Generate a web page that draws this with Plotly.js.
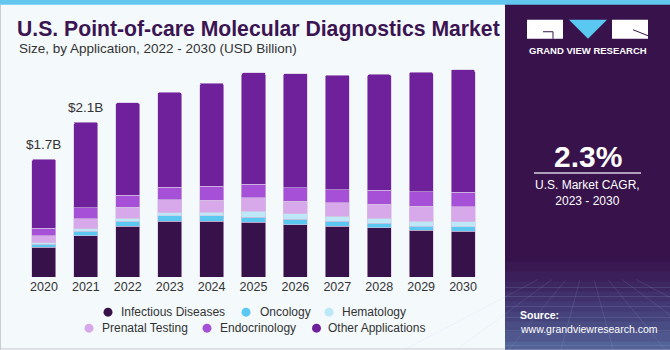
<!DOCTYPE html>
<html><head><meta charset="utf-8">
<script src="https://cdn.plot.ly/plotly-3.0.1.min.js"></script>
<style>html,body{margin:0;padding:0;background:#F4F9FC}#chart{width:670px;height:350px}</style>
</head><body><div id="chart"></div>
<script>
// ---- data (USD Billion) ----
const years = ['2020','2021','2022','2023','2024','2025','2026','2027','2028','2029','2030'];
const seriesNames = ['Infectious Diseases','Oncology','Hematology','Prenatal Testing','Endocrinology','Other Applications'];
const infectiousDiseases = [0.432,0.598,0.734,0.806,0.806,0.792,0.757,0.729,0.713,0.674,0.660];
const oncology           = [0.039,0.062,0.072,0.076,0.076,0.072,0.076,0.072,0.062,0.058,0.068];
const hematology         = [0.023,0.035,0.039,0.048,0.052,0.086,0.076,0.072,0.072,0.072,0.072];
const prenatalTesting    = [0.101,0.144,0.163,0.183,0.173,0.193,0.187,0.197,0.202,0.216,0.216];
const endocrinology      = [0.111,0.158,0.173,0.181,0.202,0.192,0.192,0.187,0.202,0.212,0.206];
const otherApplications  = [0.994,1.238,1.331,1.368,1.489,1.608,1.647,1.656,1.670,1.724,1.767];
const labelYears = ['2020','2021'];
const labelTexts = ['$1.7B','$2.1B'];
const cagrValue = '2.3%';
const cagrText = 'U.S. Market CAGR,<br>2023 - 2030';

// ---- styles ----
const colors = ['#37114A','#5BC8F2','#BDE8F8','#D8A9EA','#A650D8','#6F209B'];
const W = 670, H = 350, L = 23, R = 186, T = 69.3, B = 72.5;
const pw = W - L - R, ph = H - T - B;
const px = p => (p - L) / pw;
const py = p => (H - B - p) / ph;
const FONT = 'Liberation Sans, Arial, sans-serif';

const seriesData = [infectiousDiseases, oncology, hematology, prenatalTesting, endocrinology, otherApplications];
const traces = seriesData.map((vals, i) => ({
  type: 'bar', x: years, y: vals, name: seriesNames[i], showlegend: false,
  marker: {color: colors[i], line: {color: '#d3c2df', width: 0.6}},
  hoverinfo: 'skip'
}));

const totals = years.map((_, j) => seriesData.reduce((s, arr) => s + arr[j], 0));

function pathPx(pts) {
  return 'M' + pts.map(p => px(p[0]) + ',' + py(p[1])).join('L') + 'Z';
}
function linePx(x0, y0, x1, y1, color, w) {
  return {type:'line', xref:'paper', yref:'paper', x0:px(x0), x1:px(x1), y0:py(y0), y1:py(y1), line:{color:color, width:w}};
}

const shapes = [
  // right panel
  {type:'rect', xref:'paper', yref:'paper', x0:px(505), x1:px(670), y0:py(350), y1:py(0), fillcolor:'#38124B', line:{width:0}}
];
// bottom gradient of the panel
for (let k = 0; k < 9; k++) {
  const top = 262 + k * 10;
  shapes.push({type:'rect', xref:'paper', yref:'paper', x0:px(505), x1:px(670), y0:py(350), y1:py(top),
    fillcolor:'rgba(' + (70 + k * 6) + ',' + (70 + k * 14) + ',' + (140 + k * 10) + ',0.12)', line:{width:0}});
}
// faint grid texture
[288, 297, 307, 318, 331, 346].forEach(y => shapes.push(linePx(505, y, 670, y, 'rgba(170,200,235,0.22)', 0.7)));
[-60, -20, 20, 60, 100, 140, 180, 220].forEach(x => shapes.push(linePx(587 + (x - 80) * 0.35, 280, 587 + (x - 80) * 1.3, 350, 'rgba(170,200,235,0.2)', 0.7)));
shapes.push(
  // top stripe
  {type:'rect', xref:'paper', yref:'paper', x0:px(0), x1:px(670), y0:py(5), y1:py(0), fillcolor:'#62C6EF', line:{width:0}},
  // borders
  linePx(0.5, 5, 0.5, 350, '#c8ccd0', 1),
  linePx(0, 349.5, 505, 349.5, '#c8ccd0', 1),
  // logo
  {type:'rect', xref:'paper', yref:'paper', x0:px(527), x1:px(563), y0:py(39), y1:py(20), fillcolor:'#ffffff', line:{width:0}},
  {type:'path', xref:'paper', yref:'paper', path: pathPx([[569,20],[607,20],[588,39]]), fillcolor:'#5BC8F2', line:{width:0}},
  {type:'rect', xref:'paper', yref:'paper', x0:px(612), x1:px(648), y0:py(39), y1:py(20), fillcolor:'#ffffff', line:{width:0}},
  {type:'path', xref:'paper', yref:'paper', path: 'M'+px(543)+','+py(32)+'L'+px(553)+','+py(32)+'L'+px(553)+','+py(39), line:{color:'#38124B', width:1}},
  {type:'path', xref:'paper', yref:'paper', path: 'M'+px(633)+','+py(30)+'L'+px(648)+','+py(36), line:{color:'#38124B', width:1}},
  // CAGR divider
  linePx(534, 173.3, 641, 173.3, '#d9d2e0', 1.5)
);

// manual legend: circle markers
const legendPos = [
  {mx:108, tx:119, y:312.7}, {mx:246, tx:258, y:312.7}, {mx:329, tx:340, y:312.7},
  {mx:89, tx:100, y:328.7}, {mx:207, tx:218, y:328.7}, {mx:316.5, tx:326, y:328.7}
];
legendPos.forEach((p, i) => {
  shapes.push({type:'circle', xref:'paper', yref:'paper', xsizemode:'pixel', ysizemode:'pixel',
    xanchor:px(p.mx), yanchor:py(p.y), x0:-4.5, x1:4.5, y0:-4.5, y1:4.5,
    fillcolor: colors[i], line:{width:0}});
});

const annotations = [];
labelYears.forEach((yr, k) => {
  const j = years.indexOf(yr);
  annotations.push({xref:'x', yref:'y', x: j, y: totals[j], yanchor:'bottom', yshift:5,
    text: labelTexts[k], showarrow:false, font:{family:FONT, size:13.5, color:'#333333'}});
});
legendPos.forEach((p, i) => {
  annotations.push({xref:'paper', yref:'paper', x:px(p.tx), y:py(p.y), xanchor:'left', yanchor:'middle',
    text: seriesNames[i], showarrow:false, font:{family:FONT, size:12, color:'#333333'}});
});
annotations.push(
  {xref:'paper', yref:'paper', x:px(17), y:py(48.5), xanchor:'left', yanchor:'middle', showarrow:false,
   text:'Size, by Application, 2022 - 2030 (USD Billion)', font:{family:FONT, size:13.5, color:'#333333'}},
  {xref:'paper', yref:'paper', x:px(587.5), y:py(51), xanchor:'center', yanchor:'middle', showarrow:false,
   text:'<b>GRAND VIEW RESEARCH</b>', font:{family:FONT, size:9.5, color:'#ffffff'}},
  {xref:'paper', yref:'paper', x:px(587.5), y:py(157), xanchor:'center', yanchor:'middle', showarrow:false,
   text:'<b>'+cagrValue+'</b>', font:{family:FONT, size:30, color:'#ffffff'}},
  {xref:'paper', yref:'paper', x:px(587.5), y:py(193.5), xanchor:'center', yanchor:'middle', showarrow:false,
   text:cagrText, font:{family:FONT, size:12, color:'#ffffff'}},
  {xref:'paper', yref:'paper', x:px(518), y:py(315.7), xanchor:'left', yanchor:'middle', showarrow:false,
   text:'<b>Source:</b>', font:{family:FONT, size:10.5, color:'#ffffff'}},
  {xref:'paper', yref:'paper', x:px(518), y:py(329.3), xanchor:'left', yanchor:'middle', showarrow:false,
   text:'www.grandviewresearch.com', font:{family:FONT, size:10.5, color:'#ffffff'}}
);

const layout = {
  width: W, height: H,
  margin: {l:L, r:R, t:T, b:B, pad:0},
  paper_bgcolor: '#F4F9FC', plot_bgcolor: '#F4F9FC',
  barmode: 'stack', bargap: 0.427, barcornerradius: 2,
  title: {text:'<b>U.S. Point-of-care Molecular Diagnostics Market</b>', xref:'container', yref:'container',
    x: 17/W, xanchor:'left', y: 1 - 29/H, yanchor:'middle', font:{family:FONT, size:21.2, color:'#3B1452'}},
  xaxis: {type:'category', range:[-0.5, years.length - 0.5], showgrid:false, zeroline:false, showline:false, ticks:'',
    tickfont:{family:FONT, size:12.5, color:'#333333'}},
  yaxis: {range:[0,3], visible:false, showgrid:false, zeroline:false},
  showlegend: false,
  shapes: shapes,
  annotations: annotations
};

Plotly.newPlot('chart', traces, layout, {staticPlot:true, displayModeBar:false});
</script></body></html>
